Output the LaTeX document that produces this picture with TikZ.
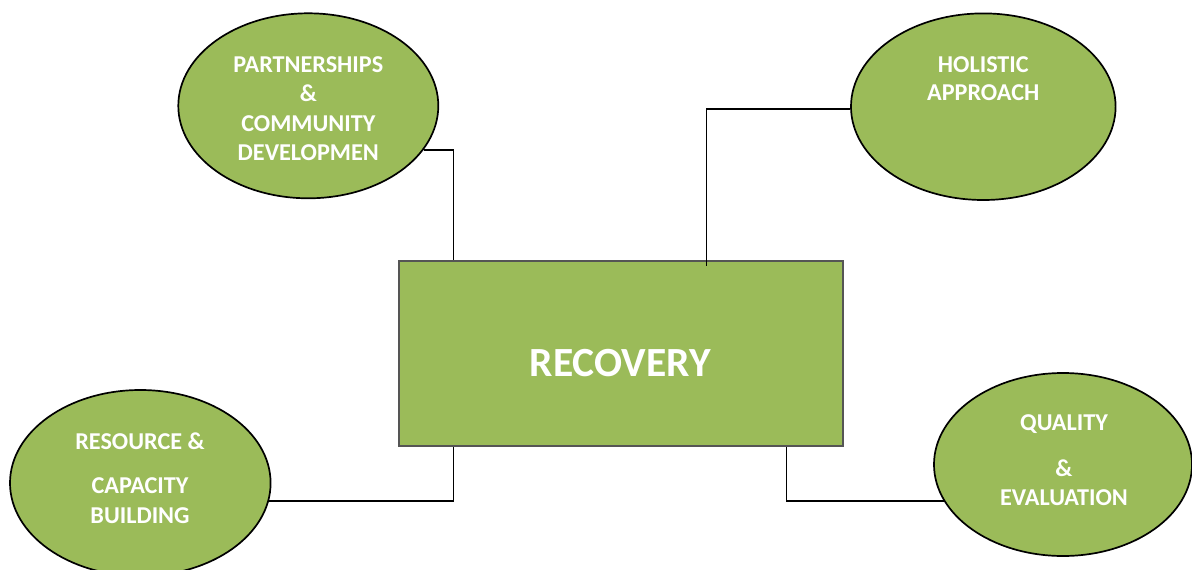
\documentclass[tikz,border=0pt]{standalone}
\usepackage{fontspec}
\setmainfont{Carlito}
\usetikzlibrary{shapes.geometric,calc}
\definecolor{olive}{HTML}{9BBB59}
\definecolor{boxline}{HTML}{555555}
\tikzset{
  bubble/.style={ellipse, draw=black, line width=1.7pt, fill=olive, inner sep=0pt},
  centrebox/.style={rectangle, draw=boxline, line width=1.7pt, fill=olive, inner sep=0pt},
  lbl/.style={text=white, font=\fontsize{24.2}{28}\selectfont\bfseries, anchor=base, inner sep=0pt},
  biglbl/.style={text=white, font=\fontsize{41.5}{48}\selectfont\bfseries, anchor=base, inner sep=0pt},
  link/.style={draw=black, line width=1.8pt}
}
\begin{document}
\begin{tikzpicture}[x=1pt,y=-1pt]
\useasboundingbox (0,0) rectangle (1192,570);
\clip (0,0) rectangle (1192,570);
\fill[white] (0,0) rectangle (1192,570);

% centre box
\node[centrebox, minimum width=444pt, minimum height=185pt] (c) at (620.7,353.5) {};
\node[biglbl] (ct) at (620.3,376) {RECOVERY};

% ellipses
\node[bubble, minimum width=260pt, minimum height=185pt] (p) at (308.3,105.8) {};
\node[bubble, minimum width=264.6pt, minimum height=186.6pt] (h) at (983.3,106.7) {};
\node[bubble, minimum width=260.6pt, minimum height=186pt] (r) at (140.3,483) {};
\node[bubble, minimum width=258pt, minimum height=183pt] (q) at (1063,464.5) {};

% texts
\node[lbl] (p1) at (308.3,72.7) {PARTNERSHIPS};
\node[lbl] (p2) at (308.3,101.7) {\&};
\node[lbl] (p3) at (308.3,131) {COMMUNITY};
\node[lbl] (p4) at (308.3,160) {DEVELOPMEN};

\node[lbl] (h1) at (983.3,72.7) {HOLISTIC};
\node[lbl] (h2) at (983.3,100.7) {APPROACH};

\node[lbl] (r1) at (140,449) {RESOURCE \&};
\node[lbl] (r2) at (140,493.3) {CAPACITY};
\node[lbl] (r3) at (140,523.3) {BUILDING};

\node[lbl] (q1) at (1064,430.7) {QUALITY};
\node[lbl] (q2) at (1064,476.7) {\&};
\node[lbl] (q3) at (1064,505) {EVALUATION};

% connectors
\coordinate (cp) at ($(c.north west)+(55.6,0)$);
\coordinate (ch) at ($(c.north west)+(308.6,5.7)$);
\coordinate (cr) at ($(c.south west)+(55.6,0)$);
\coordinate (cq) at ($(c.south west)+(388.6,0)$);
\draw[link] (p.-21.2) -| (cp);
\draw[link] (h.181) -| (ch);
\draw[link] (r.-8) -| (cr);
\draw[link] (q.197.1) -| (cq);
\end{tikzpicture}
\end{document}
